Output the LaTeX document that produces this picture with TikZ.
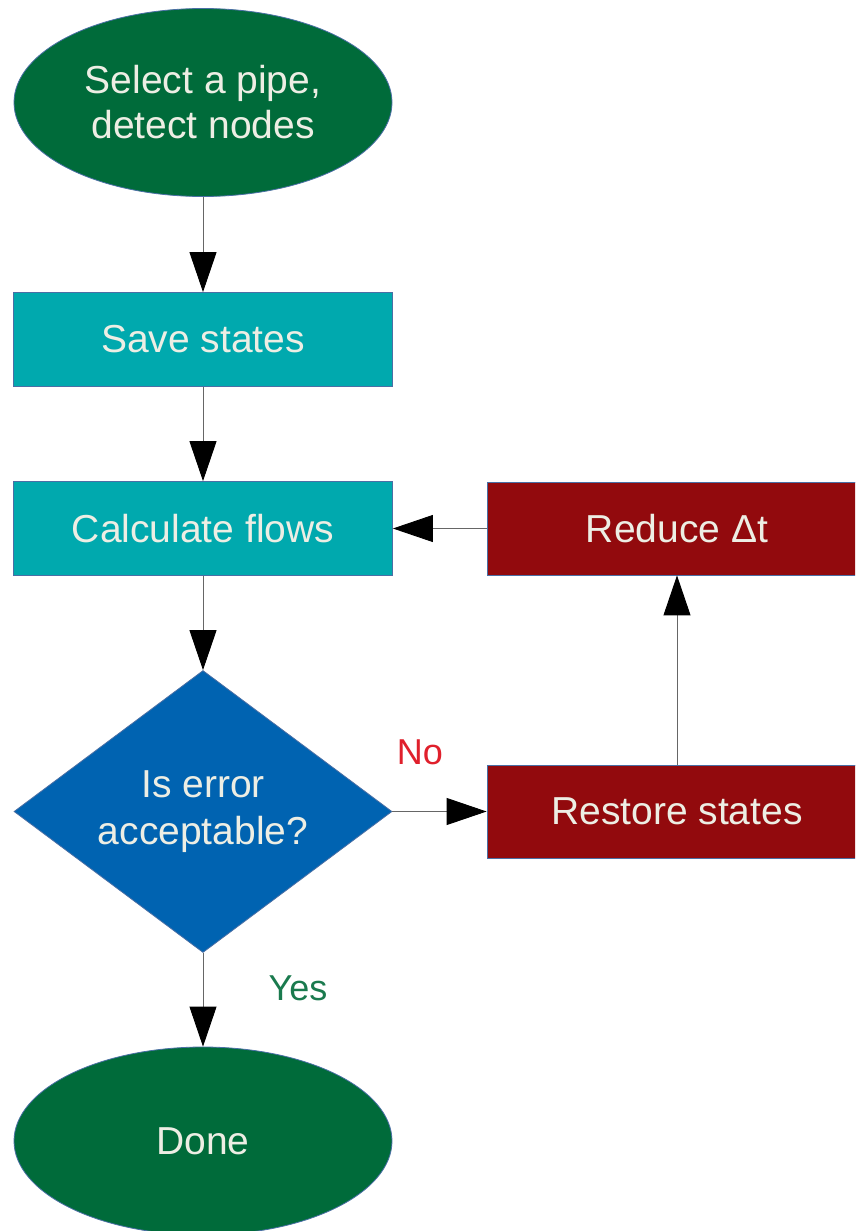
\documentclass[tikz,border=0pt]{standalone}
\usepackage{fontspec}
\setmainfont{Liberation Sans}
\usetikzlibrary{shapes.geometric,arrows.meta}
\definecolor{dkgreen}{HTML}{006B3A}
\definecolor{teal2}{HTML}{00A9AE}
\definecolor{dkred}{HTML}{920A0D}
\definecolor{diablue}{HTML}{0063B1}
\definecolor{edgeblue}{HTML}{4A6FA5}
\definecolor{txt}{HTML}{EDEEE4}
\definecolor{nored}{HTML}{E0202C}
\definecolor{yesgreen}{HTML}{1A7A4E}
\tikzset{
  base/.style={draw=edgeblue, line width=0.8pt, text=txt, inner sep=0pt, align=center,
    font=\fontsize{39}{45}\selectfont},
  oval/.style={base, shape=ellipse, fill=dkgreen, minimum width=378pt, minimum height=188pt},
  tealbox/.style={base, shape=rectangle, fill=teal2, minimum width=379pt, minimum height=94pt},
  redbox/.style={base, shape=rectangle, fill=dkred, minimum width=380pt, minimum height=93pt},
  decide/.style={base, shape=diamond, fill=diablue, shape aspect=1.34, minimum width=378pt, minimum height=282pt,
    font=\fontsize{39}{47}\selectfont},
  conn/.style={draw=black!60, line width=0.9pt, -{Triangle[length=40pt,width=27pt,color=black]}},
  lbl/.style={font=\fontsize{36}{40}\selectfont, inner sep=0pt}
}
\begin{document}
\begin{tikzpicture}[x=1pt,y=-1pt]
\clip (0,0) rectangle (855,1231);
\fill[white] (0,0) rectangle (855,1231);
\node[oval] (start) at (203,102.5) {Select a pipe,\\detect nodes};
\node[tealbox] (save) at (203,339.5) {Save states};
\node[tealbox] (calc) at (203,528.5) {Calculate flows};
\node[decide] (dia) at (203,811.5) {Is error\\acceptable?};
\node[oval] (done) at (203,1141) {Done};
\node[redbox] (red) at (677,528.5) {Reduce Δt};
\node[redbox] (rest) at (677,811.5) {Restore states};
\node[lbl, text=nored] (no) at (420,752) {No};
\node[lbl, text=yesgreen] (yes) at (298,988) {Yes};
\draw[conn] (start.south) -- (save.north);
\draw[conn] (save.south) -- (calc.north);
\draw[conn] (calc.south) -- (dia.north);
\draw[conn] (dia.south) -- (done.north);
\draw[conn] (dia.east) -- (rest.west);
\draw[conn] (rest.north) -- (red.south);
\draw[conn] (red.west) -- (calc.east);
\end{tikzpicture}
\end{document}
